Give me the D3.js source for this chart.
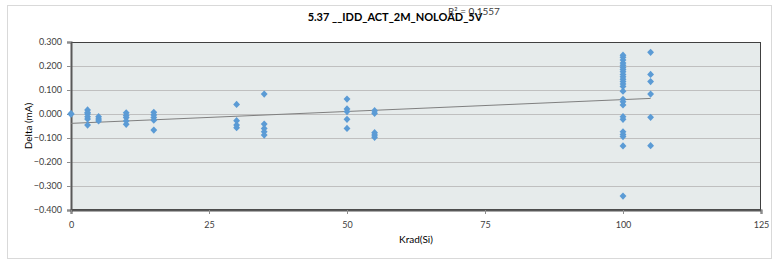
<!DOCTYPE html>
<html>
<head>
<meta charset="utf-8">
<script src="https://cdn.jsdelivr.net/npm/d3@7"></script>
<style>
  body { margin: 0; background: #fff; }
  text { font-family: Lato, "Open Sans", sans-serif; fill: #404040; }
</style>
</head>
<body>
<div id="chart"></div>
<script>
const title = "5.37 __IDD_ACT_2M_NOLOAD_5V";
const rSquared = "R\u00b2 = 0.1557";
const xTicks = [0, 25, 50, 75, 100, 125];
const yTicks = [0.3, 0.2, 0.1, 0, -0.1, -0.2, -0.3, -0.4];

// delta readings per dose (Krad)
const doses = [0, 3, 5, 10, 15, 30, 35, 50, 55, 100, 105];
const deltas = [
    [0.000, 0.002, -0.001],
    [0.017, 0.006, 0.000, -0.011, -0.021, -0.046],
    [-0.011, -0.021, -0.029],
    [0.005, -0.006, -0.015, -0.029, -0.043],
    [0.007, -0.004, -0.015, -0.026, -0.067],
    [0.040, -0.028, -0.046, -0.057],
    [0.083, -0.042, -0.060, -0.074, -0.088],
    [0.062, 0.021, 0.010, -0.022, -0.060],
    [0.014, 0.003, -0.078, -0.088, -0.097],
    [0.245, 0.236, 0.225, 0.212, 0.203, 0.194, 0.185, 0.176, 0.165, 0.155, 0.145,
     0.135, 0.125, 0.115, 0.095, 0.061, 0.051, 0.038, -0.011, -0.022, -0.074,
     -0.085, -0.094, -0.133, -0.342],
    [0.257, 0.165, 0.135, 0.083, -0.014, -0.132]
];

// linear trendline (delta = slope * dose + intercept)
const trendSlope = 0.00099;
const trendIntercept = -0.039;

const width = 774, height = 260;
const margin = {top: 42, right: 13, bottom: 50, left: 71};
const plotW = width - margin.left - margin.right,
    plotH = height - margin.top - margin.bottom;

const points = [];
doses.forEach((d, i) => deltas[i].forEach(v => points.push({x: d, y: v})));

const x = d3.scaleLinear().domain([0, 125]).range([0, plotW]);
const y = d3.scaleLinear().domain([-0.4, 0.3]).range([plotH, 0]);

const xExt = d3.extent(doses);

const svg = d3.select("#chart").append("svg")
    .attr("width", width)
    .attr("height", height);

svg.append("rect")
    .attr("x", 7.5).attr("y", 5.5)
    .attr("width", 764).attr("height", 253)
    .attr("fill", "#fff")
    .attr("stroke", "#d9d9d9");

svg.append("text")
    .attr("x", 395).attr("y", 21)
    .attr("text-anchor", "middle")
    .attr("font-weight", "bold")
    .attr("font-size", 11)
    .style("fill", "#000")
    .text(title);

const g = svg.append("g")
    .attr("transform", `translate(${margin.left},${margin.top})`);

g.append("rect")
    .attr("width", plotW).attr("height", plotH)
    .attr("fill", "#e6ebeb");

g.selectAll(".grid")
    .data(yTicks.filter(t => t !== -0.4))
    .enter()
    .append("line")
    .attr("class", "grid")
    .attr("x1", 0).attr("x2", plotW)
    .attr("y1", d => Math.round(y(d)) + 0.5)
    .attr("y2", d => Math.round(y(d)) + 0.5)
    .attr("stroke", "#bfbfbf");

// plot frame
g.append("rect")
    .attr("x", 0.5).attr("y", 0.5)
    .attr("width", plotW - 1).attr("height", plotH - 1)
    .attr("fill", "none")
    .attr("stroke", "#404040");

const yAxis = g.append("g")
    .call(d3.axisLeft(y).tickValues(yTicks).tickFormat(d3.format(".3f")).tickSize(4).tickPadding(5));
const xAxis = g.append("g")
    .attr("transform", `translate(0,${plotH})`)
    .call(d3.axisBottom(x).tickValues(xTicks).tickFormat(d3.format("d")).tickSize(4).tickPadding(8));

[yAxis, xAxis].forEach(a => {
    a.select(".domain").attr("stroke", "#595959").attr("stroke-width", 2);
    a.selectAll(".tick line").attr("stroke", "#8c8c8c");
    a.selectAll(".tick text").attr("font-size", 9).style("fill", "#404040").attr("font-family", "Lato, sans-serif");
});

g.append("line")
    .attr("x1", x(xExt[0])).attr("y1", y(trendIntercept + trendSlope * xExt[0]))
    .attr("x2", x(xExt[1])).attr("y2", y(trendIntercept + trendSlope * xExt[1]))
    .attr("stroke", "#7f7f7f")
    .attr("stroke-width", 1);

g.selectAll(".pt")
    .data(points)
    .enter()
    .append("path")
    .attr("class", "pt")
    .attr("d", d3.symbol(d3.symbolDiamond2, 30))
    .attr("transform", d => `translate(${x(d.x)},${y(d.y)}) scale(1,1.05)`)
    .attr("fill", "#5b9bd5");

svg.append("text")
    .attr("x", 448).attr("y", 15)
    .attr("font-size", 10)
    .style("fill", "#404040")
    .text(rSquared);

svg.append("text")
    .attr("transform", `translate(32,${margin.top + plotH / 2}) rotate(-90)`)
    .attr("text-anchor", "middle")
    .attr("font-size", 10)
    .style("fill", "#000")
    .text("Delta (mA)");

svg.append("text")
    .attr("x", margin.left + plotW / 2).attr("y", 243)
    .attr("text-anchor", "middle")
    .attr("font-size", 10)
    .style("fill", "#000")
    .text("Krad(Si)");
</script>
</body>
</html>
